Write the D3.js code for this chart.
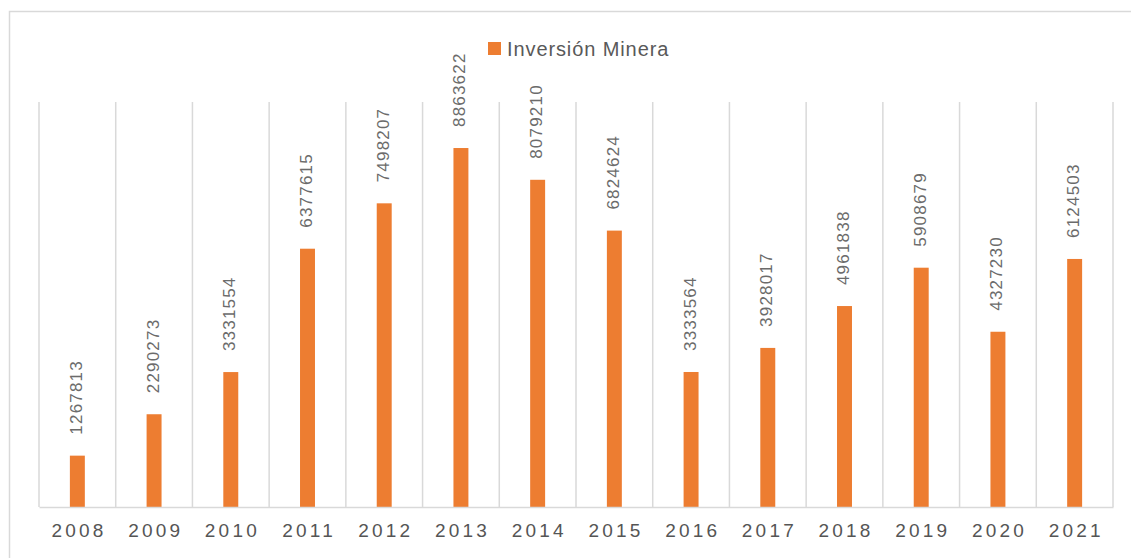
<!DOCTYPE html>
<html>
<head>
<meta charset="utf-8">
<script src="https://cdn.jsdelivr.net/npm/d3@7"></script>
<style>
  body { margin: 0; background: #fff; }
  svg text { font-family: "Liberation Sans", Arial, sans-serif; fill: #595959; }
</style>
</head>
<body>
<svg id="chart" width="1131" height="558"></svg>
<script>
// data
var years = ["2008", "2009", "2010", "2011", "2012", "2013", "2014",
             "2015", "2016", "2017", "2018", "2019", "2020", "2021"];
var inversion = [1267813, 2290273, 3331554, 6377615, 7498207, 8863622, 8079210,
                 6824624, 3333564, 3928017, 4961838, 5908679, 4327230, 6124503];
var seriesName = "Inversión Minera";
var yMax = 10000000;

var plot = {left: 39, right: 1113, top: 102, bottom: 507},
    svg = d3.select("#chart");

var x = d3.scaleBand().domain(years).range([plot.left, plot.right]).padding(0),
    y = d3.scaleLinear().domain([0, yMax]).range([plot.bottom, plot.top]),
    barW = x.bandwidth() * 0.195;

// outer border (runs off the right and bottom edge)
svg.append("rect")
  .attr("x", 9.5).attr("y", 11.5)
  .attr("width", 1200).attr("height", 600)
  .attr("fill", "none")
  .attr("stroke", "#d9d9d9")
  .attr("stroke-width", 1.5);

// vertical gridlines at category edges
var edges = years.map(function(d) { return x(d); }).concat([plot.right]);
svg.selectAll(".grid")
  .data(edges)
  .enter().append("line")
    .attr("class", "grid")
    .attr("x1", function(d) { return d; })
    .attr("x2", function(d) { return d; })
    .attr("y1", plot.top)
    .attr("y2", plot.bottom)
    .attr("stroke", "#d9d9d9")
    .attr("stroke-width", 1.5);

// bars
svg.selectAll(".bar")
  .data(inversion)
  .enter().append("rect")
    .attr("class", "bar")
    .attr("x", function(d, i) { return x(years[i]) + x.bandwidth() / 2 - barW / 2; })
    .attr("width", barW)
    .attr("y", function(d) { return y(d); })
    .attr("height", function(d) { return plot.bottom - y(d); })
    .attr("fill", "#ed7d31");

// x axis
var xAxis = svg.append("g")
  .attr("transform", "translate(0," + plot.bottom + ")")
  .call(d3.axisBottom(x).tickSize(0).tickPadding(17));
xAxis.select(".domain").attr("stroke", "#d9d9d9").attr("stroke-width", 1.5);
xAxis.selectAll("text")
  .style("font-family", "Liberation Sans, Arial, sans-serif")
  .style("font-size", "19px")
  .style("letter-spacing", "3.2px")
  .style("fill", "#555555")
  .attr("dx", "1.6px");

// value labels, rotated
svg.selectAll(".lbl")
  .data(inversion)
  .enter().append("text")
    .attr("class", "lbl")
    .attr("transform", function(d, i) {
      return "translate(" + (x(years[i]) + x.bandwidth() / 2 - 1) + "," + (y(d) - 21) + ") rotate(-90)";
    })
    .attr("dominant-baseline", "central")
    .style("font-size", "17px")
    .style("letter-spacing", "1.2px")
    .style("fill", "#6b6b6b")
    .text(function(d) { return d; });

// legend
var legend = svg.append("g").attr("transform", "translate(488,42)");
legend.append("rect")
  .attr("width", 13).attr("height", 13)
  .attr("fill", "#ed7d31");
legend.append("text")
  .attr("x", 19).attr("y", 14)
  .style("font-size", "20px")
  .style("letter-spacing", "0.9px")
  .style("fill", "#595959")
  .text(seriesName);
</script>
</body>
</html>
